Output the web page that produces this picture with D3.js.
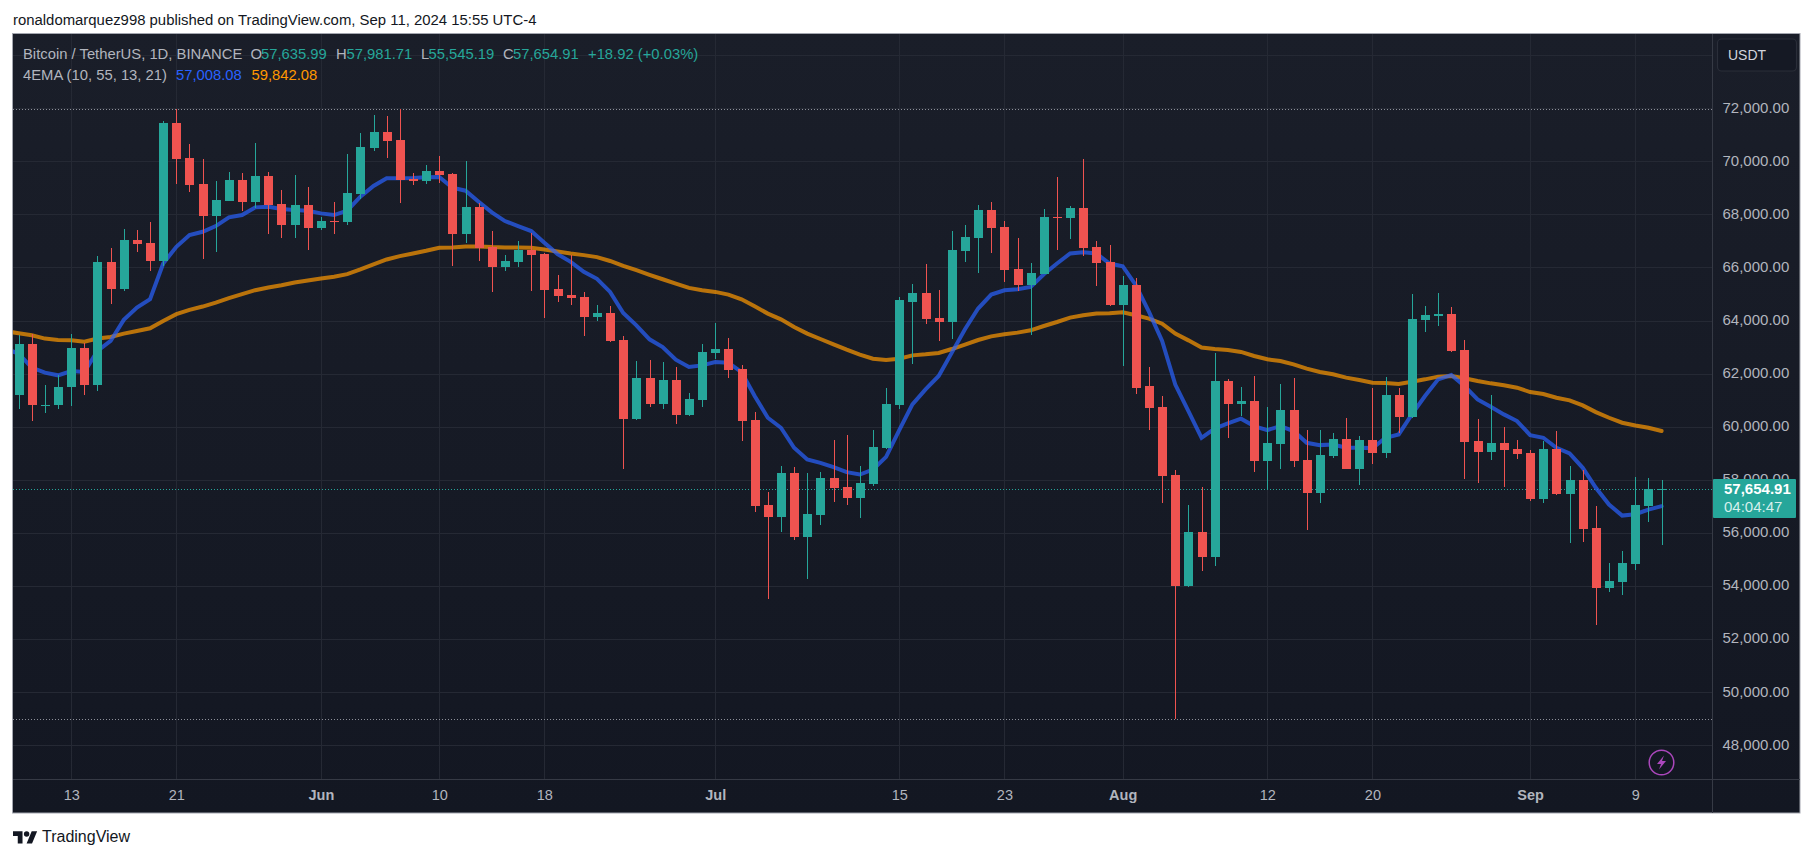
<!DOCTYPE html>
<html>
<head>
<meta charset="utf-8">
<title>BTCUSDT 1D</title>
<script src="https://cdnjs.cloudflare.com/ajax/libs/d3/7.8.5/d3.min.js"></script>
<style>
  html, body { margin: 0; background: #fff; overflow: hidden; }
  svg { display: block; }
  text { font-family: "Liberation Sans", Arial, sans-serif; }
  .domain { display: none; }
  .tick line { display: none; }
</style>
</head>
<body>
<div id="chart"></div>
<script>
// daily candles, first one is May 9 2024
var opens = [61182,63107,60780,60805,61484,62956,61560,66200,65182,67031,66918,66238,71446,70126,69144,67937,68503,69295,68465,69446,68390,67597,68352,67484,67760,67710,68767,70503,71107,70805,69330,69257,69635,69522,67257,68276,66767,66012,66200,66654,66500,65180,64955,64880,64126,64277,63258,60276,61824,60842,61748,60427,60993,62767,62918,62163,60239,57068,56615,58276,55861,56690,58087,57748,57333,57861,59182,60805,64689,65029,64086,63935,66614,67105,68162,67520,65935,65331,65746,67900,67860,68237,66765,66199,64576,65331,61522,60729,58201,54011,56049,55106,61710,60842,60956,58691,59333,60616,58729,57521,58880,59522,58427,59484,58993,61182,60352,64013,64176,64239,62880,59446,59031,59371,59144,58993,57295,59144,57484,58012,56200,53936,54163,54842,57031,57635.99];
var highs = [63446,63484,61559,61937,63484,63144,66415,66729,67446,67408,67710,71522,71979,70654,70088,69258,69597,69560,70692,69597,68918,69484,69031,67899,68465,70277,71069,71748,71711,71979,69560,69862,70200,69560,70012,68427,67371,66465,66993,67295,66540,65710,66465,65068,64578,64541,63409,62465,62503,62427,62239,61258,63107,63899,63333,62314,60540,57559,58503,58465,58276,58314,59484,59672,58540,59861,61446,64878,65369,66124,65142,67369,67595,68350,68463,67746,67105,66161,68199,69407,68313,70086,66992,66841,65671,65595,62239,61144,58352,57068,57748,62767,61786,61484,61899,60729,61597,61824,59861,59861,59748,60314,59635,61446,61861,61446,64994,64541,65032,64503,63258,60276,61182,59974,59484,59107,59446,59824,58540,58352,57031,54880,55333,58125,58087,57981.71];
var lows = [60654,60201,60503,60654,60767,61182,61333,64616,65106,66578,65861,66050,69144,68842,66314,66578,68503,68125,68239,67257,67106,67106,66654,67408,67257,67597,68578,70390,70126,68427,69100,69144,69182,66050,66918,66238,65068,65861,66012,65120,64088,64692,64578,63409,63975,63180,58427,60250,60729,60654,60088,60400,60729,62541,61824,59446,56804,53521,56049,55747,54276,56314,57182,57068,56578,57786,59150,60654,62350,63859,63218,63293,66199,65784,66539,65444,65105,63444,65746,66652,67067,66425,65293,64538,62274,61217,59861,57144,49000,53974,54578,54766,59559,60400,58314,57635,58427,58465,56125,57144,58804,58400,57823,58578,58804,59748,60330,63560,63786,62800,58050,57899,58729,57748,58767,57219,57144,57446,55634,55672,52550,53785,53672,54615,56427,55545.19];
var closes = [63107,60805,60830,61509,62956,61560,66200,65182,67031,66880,66238,71446,70088,69107,67937,68540,69295,68465,69446,68352,67597,68352,67484,67748,67730,68805,70541,71107,70767,69295,69257,69635,69484,67257,68276,66729,66012,66238,66654,66465,65144,64917,64842,64126,64277,63220,60276,61824,60842,61748,60427,61031,62805,62918,62126,60201,57031,56615,58276,55861,56729,58087,57710,57333,57899,59220,60843,64767,65029,64048,63935,66652,67143,68162,67482,65897,65331,65784,67897,67860,68237,66727,66161,64576,65331,61444,60691,58163,54011,56049,55106,61710,60842,60956,58691,59371,60616,58691,57521,58918,59522,58427,59484,58993,61182,60352,64050,64201,64239,62843,59408,59031,59371,59107,58955,57295,59144,57484,58012,56163,53936,54200,54880,57069,57672,57654.91];

// EMA readings, these start one day earlier (May 8) so the lines reach the left edge
var emaFast = [62950,62750,62226,62037,61937,62100,62063,62855,63232,64025,64490,64805,66151,66780,67220,67346,67560,67887,67975,68264,68289,68201,68164,68138,68038,67975,68138,68667,69069,69359,69359,69371,69396,69409,69006,68893,68478,68075,67748,67560,67371,66931,66503,66214,65836,65572,65080,64286,63821,63293,63004,62526,62249,62312,62438,62413,62060,61157,60339,59962,59207,58767,58641,58477,58289,58201,58389,58867,59874,60842,61408,61912,62792,63673,64453,64979,65142,65180,65268,65746,66149,66526,66576,66526,66149,66048,65331,64325,63230,61590,60591,59584,59930,60126,60302,60025,59874,60025,59836,59396,59308,59333,59207,59207,59195,59585,59710,60465,61157,61786,61950,61534,61031,60754,60465,60214,59685,59585,59207,58993,58452,57698,57069,56653,56704,56880,57008.08];
var emaSlow = [63600,63522,63446,63321,63270,63258,63207,63321,63383,63509,63610,63710,63987,64239,64402,64528,64679,64843,64993,65144,65245,65333,65434,65509,65584,65648,65748,65924,66113,66302,66427,66528,66629,66742,66755,66793,66793,66767,66755,66755,66742,66679,66604,66528,66465,66390,66245,66061,65897,65721,65557,65394,65231,65142,65080,64979,64803,64539,64262,64048,63759,63507,63306,63104,62903,62715,62564,62513,62564,62689,62727,62777,62928,63092,63268,63406,63482,63545,63633,63796,63947,64111,64199,64262,64275,64312,64199,64073,63884,63507,63255,62985,62930,62893,62818,62667,62541,62478,62352,62189,62063,61975,61849,61761,61660,61648,61610,61698,61786,61887,61912,61824,61723,61635,61560,61472,61308,61232,61094,60993,60805,60553,60339,60151,60050,59962,59842.08];

var priceTicks = [72000,70000,68000,66000,64000,62000,60000,58000,56000,54000,52000,50000,48000];
var gridPrices = [74000].concat(priceTicks);
var timeTickDates = ["2024-05-13","2024-05-21","2024-06-01","2024-06-10","2024-06-18","2024-07-01","2024-07-15","2024-07-23","2024-08-01","2024-08-12","2024-08-20","2024-09-01","2024-09-09"];
var timeTickLabels = ["13","21","Jun","10","18","Jul","15","23","Aug","12","20","Sep","9"];
var boldLabels = ["Jun","Jul","Aug","Sep"];

var rangeHigh = 71979, rangeLow = 49000, lastPrice = 57654.91;

var legendRow1 = [
  { t: "Bitcoin / TetherUS, 1D, BINANCE", x: 23, c: "#b2b5be" },
  { t: "O", x: 250.5, c: "#b2b5be" }, { t: "57,635.99", x: 261, c: "#26a69a" },
  { t: "H", x: 336, c: "#b2b5be" }, { t: "57,981.71", x: 346.5, c: "#26a69a" },
  { t: "L", x: 421, c: "#b2b5be" }, { t: "55,545.19", x: 428.5, c: "#26a69a" },
  { t: "C", x: 503, c: "#b2b5be" }, { t: "57,654.91", x: 513, c: "#26a69a" },
  { t: "+18.92 (+0.03%)", x: 588, c: "#26a69a" }
];
var legendRow2 = [
  { t: "4EMA (10, 55, 13, 21)", x: 23, c: "#b2b5be" },
  { t: "57,008.08", x: 176, c: "#2962ff" },
  { t: "59,842.08", x: 251.5, c: "#ff9800" }
];

var up = "#26a69a", down = "#ef5350", gridColor = "#252934";
var left = 13, top_ = 34, right = 1712, bottom = 779.5, frameRight = 1800, frameBottom = 813;

var svg = d3.select("#chart").append("svg").attr("width", 1815).attr("height", 858);
var parseDay = d3.utcParse("%Y-%m-%d");

var x = d3.scaleUtc()
  .domain([parseDay("2024-05-13"), parseDay("2024-09-09")])
  .range([71.2, 1635.3]);
var y = d3.scaleLinear().domain([48000, 72000]).range([745.3, 108.2]);

var candleDays = d3.utcDay.range(parseDay("2024-05-09"), parseDay("2024-09-12"));
var emaDays = d3.utcDay.range(parseDay("2024-05-08"), parseDay("2024-09-12"));
var candles = candleDays.map(function (d, i) {
  return { date: d, o: opens[i], h: highs[i], l: lows[i], c: closes[i] };
});

// background
var defs = svg.append("defs");
var grad = defs.append("linearGradient").attr("id", "bg").attr("x1", 0).attr("x2", 0).attr("y1", 0).attr("y2", 1);
grad.append("stop").attr("offset", "0%").attr("stop-color", "#1a1e29");
grad.append("stop").attr("offset", "100%").attr("stop-color", "#131722");
defs.append("clipPath").attr("id", "plot").append("rect")
  .attr("x", left).attr("y", top_).attr("width", right - left).attr("height", bottom - top_);

svg.append("rect").attr("x", 12.5).attr("y", 33.5).attr("width", frameRight - 12.5).attr("height", frameBottom - 33.5)
  .attr("fill", "url(#bg)").attr("stroke", "#a3a6af").attr("stroke-width", 1);

// grid
var grid = svg.append("g").attr("shape-rendering", "crispEdges");
grid.selectAll(".h").data(gridPrices).enter().append("line")
  .attr("x1", left).attr("x2", right)
  .attr("y1", function (d) { return Math.round(y(d)) + 0.5; })
  .attr("y2", function (d) { return Math.round(y(d)) + 0.5; })
  .attr("stroke", gridColor);
grid.selectAll(".v").data(timeTickDates).enter().append("line")
  .attr("y1", top_).attr("y2", bottom)
  .attr("x1", function (d) { return Math.round(x(parseDay(d))) + 0.5; })
  .attr("x2", function (d) { return Math.round(x(parseDay(d))) + 0.5; })
  .attr("stroke", gridColor);

// high / low / last price dotted lines
[[rangeHigh, "#8d909a"], [rangeLow, "#8d909a"], [lastPrice, up]].forEach(function (r) {
  svg.append("line")
    .attr("x1", left).attr("x2", right)
    .attr("y1", Math.round(y(r[0])) + 0.5).attr("y2", Math.round(y(r[0])) + 0.5)
    .attr("stroke", r[1]).attr("stroke-dasharray", "1 2")
    .attr("shape-rendering", "crispEdges");
});

var plot = svg.append("g").attr("clip-path", "url(#plot)");

// EMA lines sit under the candles
var emaLine = d3.line()
  .x(function (d, i) { return x(emaDays[i]); })
  .y(function (d) { return y(d); });
plot.append("path").datum(emaSlow).attr("d", emaLine)
  .attr("fill", "none").attr("stroke", "#ff9800").attr("stroke-opacity", 0.7).attr("stroke-width", 4)
  .attr("stroke-linecap", "round");
plot.append("path").datum(emaFast).attr("d", emaLine)
  .attr("fill", "none").attr("stroke", "#2962ff").attr("stroke-opacity", 0.7).attr("stroke-width", 4)
  .attr("stroke-linecap", "round");

function candleColor(d) {
  return d.c >= d.o ? up : down;
}

var candleG = plot.selectAll(".candle").data(candles).enter().append("g")
  .attr("class", "candle").attr("shape-rendering", "crispEdges");
candleG.append("line")
  .attr("x1", function (d) { return Math.round(x(d.date)) + 0.5; })
  .attr("x2", function (d) { return Math.round(x(d.date)) + 0.5; })
  .attr("y1", function (d) { return y(d.h); })
  .attr("y2", function (d) { return y(d.l); })
  .attr("stroke", candleColor);
candleG.append("rect")
  .attr("x", function (d) { return Math.round(x(d.date)) - 4; })
  .attr("width", 9)
  .attr("y", function (d) { return y(Math.max(d.o, d.c)); })
  .attr("height", function (d) { return Math.max(1, Math.abs(y(d.o) - y(d.c))); })
  .attr("fill", candleColor);

// axes
svg.append("line").attr("x1", right + 0.5).attr("x2", right + 0.5).attr("y1", top_).attr("y2", frameBottom)
  .attr("stroke", "#363a45").attr("shape-rendering", "crispEdges");
svg.append("line").attr("x1", left).attr("x2", frameRight).attr("y1", bottom).attr("y2", bottom)
  .attr("stroke", "#363a45").attr("shape-rendering", "crispEdges");

var yAxis = d3.axisRight(y).tickValues(priceTicks).tickFormat(d3.format(",.2f")).tickSize(0).tickPadding(0);
svg.append("g").attr("transform", "translate(1722.5,-1)").call(yAxis)
  .selectAll("text").attr("font-size", 15).attr("fill", "#b2b5be").attr("font-family", "Liberation Sans").attr("dy", "0.32em");

var xAxis = d3.axisBottom(x)
  .tickValues(timeTickDates.map(parseDay))
  .tickFormat(function (d, i) { return timeTickLabels[i]; })
  .tickSize(0).tickPadding(0);
svg.append("g").attr("transform", "translate(0,790)").call(xAxis)
  .selectAll("text").attr("font-size", 14.5).attr("font-family", "Liberation Sans").attr("dy", "0.71em")
  .attr("fill", "#b2b5be")
  .attr("font-weight", function (d, i) { return boldLabels.indexOf(timeTickLabels[i]) >= 0 ? "bold" : "normal"; });

// currency button
svg.append("rect").attr("x", 1717.5).attr("y", 39).attr("width", 79).attr("height", 32).attr("rx", 4)
  .attr("fill", "#151924").attr("stroke", "#2a2e39").attr("stroke-width", 1.2);
svg.append("text").attr("x", 1728).attr("y", 60).attr("font-size", 14).attr("fill", "#d1d4dc").text("USDT");

// last price tag
svg.append("rect").attr("x", 1713).attr("y", 479).attr("width", 83).attr("height", 39).attr("rx", 1).attr("fill", up);
svg.append("text").attr("x", 1724).attr("y", 494).attr("font-size", 15).attr("font-weight", "bold").attr("fill", "#fff")
  .text(d3.format(",.2f")(lastPrice));
svg.append("text").attr("x", 1724).attr("y", 512).attr("font-size", 15).attr("fill", "#d5efec").text("04:04:47");

// legend
function drawLegend(row, yPos) {
  svg.selectAll(null).data(row).enter().append("text")
    .attr("x", function (d) { return d.x; })
    .attr("y", yPos)
    .attr("font-size", 14.8)
    .attr("fill", function (d) { return d.c; })
    .text(function (d) { return d.t; });
}
drawLegend(legendRow1, 58.5);
drawLegend(legendRow2, 79.5);

// lightning badge
var bolt = svg.append("g").attr("transform", "translate(1661.5,762.5)");
bolt.append("circle").attr("r", 12.3).attr("fill", "none").attr("stroke", "#ab47bc").attr("stroke-width", 1.5);
bolt.append("path").attr("d", "M2.5,-7 L-4.5,1.5 L-0.5,1.5 L-2.5,7 L4.5,-1.5 L0.5,-1.5 Z").attr("fill", "#ab47bc");

// header and footer
svg.append("text").attr("x", 13).attr("y", 25).attr("font-size", 14.9).attr("fill", "#131722")
  .text("ronaldomarquez998 published on TradingView.com, Sep 11, 2024 15:55 UTC-4");

var logo = svg.append("g").attr("transform", "translate(13,828.5) scale(0.68)").attr("fill", "#131722");
logo.append("path").attr("d", "M14 22H7V11H0V4h14v18zM28 22h-8l7.5-18h8L28 22z");
logo.append("circle").attr("cx", 20).attr("cy", 8).attr("r", 4);
svg.append("text").attr("x", 42).attr("y", 842).attr("font-size", 16).attr("fill", "#131722").text("TradingView");
</script>
</body>
</html>
